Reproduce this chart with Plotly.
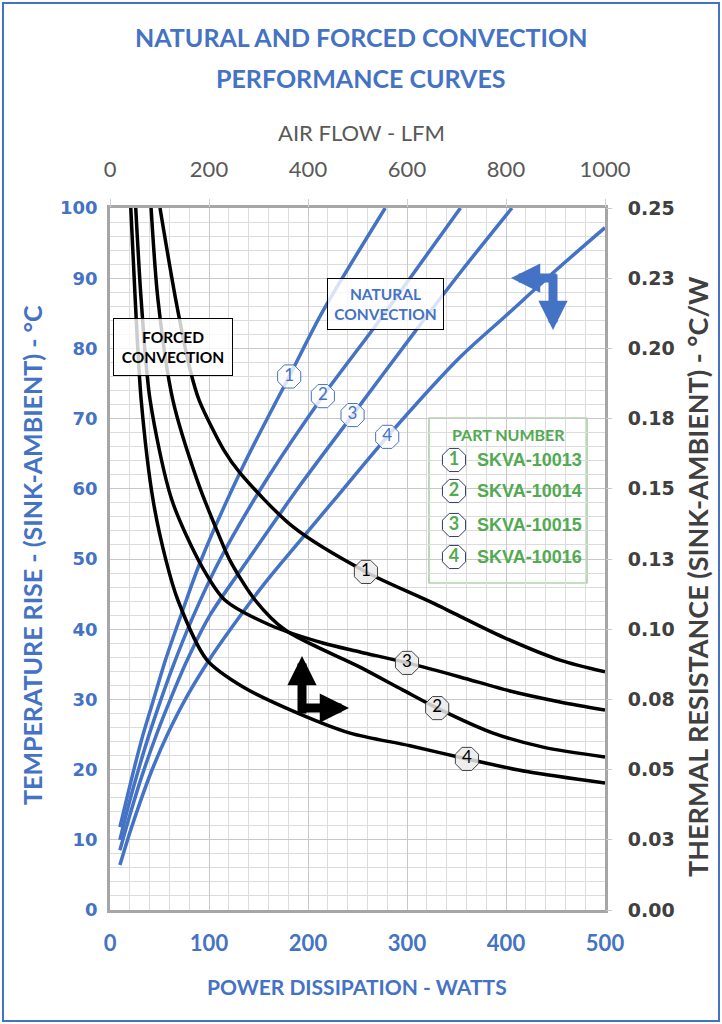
import plotly.graph_objects as go

# natural convection (blue) : power dissipation (W) vs temperature rise (C)
watts_1 = [10, 18, 25, 33, 43, 56, 73, 91, 134, 181, 215, 278]
trise_1 = [11.8, 16.5, 20.5, 24.8, 29.5, 35.6, 42.5, 49.5, 63.1, 76.0, 85.3, 100.0]
watts_2 = [10, 20, 30, 40, 51, 63, 83, 111, 159, 215, 266, 303, 354]
trise_2 = [10.0, 15.6, 20.6, 25.2, 29.8, 34.5, 41.5, 49.9, 61.5, 73.2, 82.8, 90.0, 100.0]
watts_3 = [10, 20, 32, 47, 61, 78, 101, 138, 192, 245, 306, 356, 406]
trise_3 = [8.5, 13.5, 19.0, 25.0, 30.0, 35.6, 42.0, 49.6, 60.5, 70.5, 82.0, 91.2, 100.0]
watts_4 = [10, 20, 30, 42, 58, 78, 101, 131, 156, 174, 230, 280, 354, 401, 451, 500]
trise_4 = [6.4, 11.0, 15.2, 19.8, 25.0, 30.5, 35.8, 41.8, 46.5, 49.6, 59.0, 67.4, 78.8, 84.8, 91.2, 97.2]

# forced convection (black) : air flow (LFM) vs thermal resistance (C/W)
lfm_1 = [101, 133, 162, 180, 230, 263, 370, 517, 653, 794, 909, 1000]
rth_1 = [0.250, 0.2172, 0.1923, 0.1816, 0.1638, 0.1556, 0.1364, 0.1204, 0.1093, 0.0972, 0.089, 0.0848]
lfm_2 = [83, 97, 127, 178, 218, 242, 293, 354, 505, 592, 661, 774, 875, 1000]
rth_2 = [0.250, 0.2172, 0.1816, 0.1521, 0.1343, 0.1246, 0.1104, 0.0997, 0.0865, 0.0783, 0.0719, 0.063,
         0.058, 0.0545]
lfm_3 = [52, 63, 81, 125, 186, 232, 323, 430, 505, 600, 707, 808, 909, 1000]
rth_3 = [0.250, 0.2172, 0.1816, 0.146, 0.1222, 0.1104, 0.1015, 0.0951, 0.0919, 0.088, 0.083, 0.078, 0.0741,
         0.0712]
lfm_4 = [42, 51, 63, 87, 113, 137, 196, 269, 378, 485, 606, 721, 842, 1000]
rth_4 = [0.250, 0.2172, 0.1816, 0.146, 0.1246, 0.1104, 0.089, 0.0794, 0.0702, 0.063, 0.0585, 0.0538,
         0.0493, 0.0452]

# numbered tags sitting on the curves
tag_names = ["1", "2", "3", "4"]
blue_tag_w = [181, 215, 245, 280]
blue_tag_t = [76.0, 73.2, 70.5, 67.4]
black_tag_lfm = [517, 661, 600, 721]
black_tag_r = [0.1204, 0.0719, 0.088, 0.0538]

part_numbers = ["SKVA-10013", "SKVA-10014", "SKVA-10015", "SKVA-10016"]

r_ticks = [0, 0.025, 0.05, 0.075, 0.1, 0.125, 0.15, 0.175, 0.2, 0.225, 0.25]
r_labels = ["0.00", "0.03", "0.05", "0.08", "0.10", "0.13", "0.15", "0.18", "0.20", "0.23", "0.25"]

BLUE = "#4472C4"
GREEN = "#52AA52"
GRAY = "#595959"
DARK = "#404040"

# plot area in pixels: x 110..605, y 208..910
def px(x):
    return (x - 110) / 495


def py(y):
    return (910 - y) / 702


fig = go.Figure()

for w, t in [(watts_1, trise_1), (watts_2, trise_2), (watts_3, trise_3), (watts_4, trise_4)]:
    fig.add_trace(go.Scatter(x=w, y=t, mode="lines",
                             line=dict(color=BLUE, width=3.5, shape="spline", smoothing=0.8),
                             hoverinfo="skip"))

for l, r in [(lfm_1, rth_1), (lfm_2, rth_2), (lfm_3, rth_3), (lfm_4, rth_4)]:
    fig.add_trace(go.Scatter(x=l, y=r, mode="lines", xaxis="x2", yaxis="y2",
                             line=dict(color="black", width=3.5, shape="spline", smoothing=0.8),
                             hoverinfo="skip"))

fig.add_trace(go.Scatter(
    x=blue_tag_w, y=blue_tag_t, mode="markers+text", text=tag_names, textposition="middle center",
    textfont=dict(family="Lato", size=17, color=BLUE),
    marker=dict(symbol="octagon", size=25, color="rgba(255,255,255,0.8)", line=dict(color=BLUE, width=1)),
    hoverinfo="skip"))
fig.add_trace(go.Scatter(
    x=black_tag_lfm, y=black_tag_r, mode="markers+text", text=tag_names, textposition="middle center",
    xaxis="x2", yaxis="y2", textfont=dict(family="Lato", size=17, color="black"),
    marker=dict(symbol="octagon", size=25, color="rgba(235,235,235,0.85)", line=dict(color=DARK, width=1)),
    hoverinfo="skip"))

# legend box icons
legend_rows_y = [460, 491, 525, 557]
fig.add_trace(go.Scatter(
    x=[(454 - 110) / 0.99] * 4, y=[(910 - v) / 7.02 for v in legend_rows_y],
    mode="markers+text", text=tag_names, textposition="middle center",
    textfont=dict(family="Lato", size=18, color=GREEN, weight="bold"),
    marker=dict(symbol="octagon", size=25, color="white", line=dict(color="#2F3B66", width=1)),
    hoverinfo="skip"))


def label(text, x, y, size, color, weight="bold", **kw):
    d = dict(text=text, x=px(x), y=py(y), xref="paper", yref="paper", showarrow=False,
             xanchor="center", yanchor="middle",
             font=dict(family="Lato", size=size, color=color, weight=weight))
    d.update(kw)
    return d


annotations = [
    label("NATURAL AND FORCED CONVECTION", 361, 37, 25, BLUE),
    label("PERFORMANCE CURVES", 361, 78, 25, BLUE),
    label("AIR FLOW - LFM", 361, 133, 22, GRAY, weight="normal"),
    label("TEMPERATURE RISE - (SINK-AMBIENT) - °C", 32, 555, 25, BLUE, textangle=-90),
    label("THERMAL RESISTANCE (SINK-AMBIENT) - °C/W", 697, 577, 27, DARK, textangle=-90),
    label("POWER DISSIPATION - WATTS", 357, 987, 21, BLUE),
    label("FORCED<br>CONVECTION", 173, 347, 15.5, "black", width=116, height=54,
          bgcolor="rgba(255,255,255,0.8)", bordercolor="black", borderwidth=1),
    label("NATURAL<br>CONVECTION", 385, 304, 15.5, BLUE, width=113, height=48,
          bgcolor="rgba(255,255,255,0.8)", bordercolor="black", borderwidth=1),
    label("PART NUMBER", 508, 434, 16, GREEN),
]
for name, yv in zip(part_numbers, legend_rows_y):
    a = label(name, 475, yv, 18, GREEN, xanchor="left")
    a["font"]["family"] = "Liberation Sans"
    annotations.append(a)

# arrows telling which axes each family reads from
arrows = [
    (px(511), py(278), px(558), py(278), BLUE),
    (px(553), py(330), px(553), py(273), BLUE),
    (px(302), py(656), px(302), py(715), "black"),
    (px(349), py(708), px(297), py(708), "black"),
]
for x, y, ax, ay, c in arrows:
    annotations.append(dict(x=x, y=y, ax=ax, ay=ay, xref="x domain", yref="y domain",
                            axref="x domain", ayref="y domain",
                            text="", showarrow=True, arrowhead=2, arrowsize=0.65, arrowwidth=9,
                            arrowcolor=c))

shapes = [
    dict(type="rect", xref="paper", yref="paper", x0=px(429), x1=px(587), y0=py(583), y1=py(418),
         line=dict(color="#8CC084", width=1.2), fillcolor="white", layer="between"),
    dict(type="rect", xref="paper", yref="paper", x0=px(3), x1=px(719), y0=py(1021), y1=py(3),
         line=dict(color=BLUE, width=2)),
]

fig.update_layout(
    width=722, height=1024,
    margin=dict(l=110, r=117, t=208, b=114),
    paper_bgcolor="white", plot_bgcolor="white",
    showlegend=False,
    annotations=annotations,
    shapes=shapes,
    xaxis=dict(range=[0, 500], dtick=100, showgrid=True, gridcolor="#C8C8C8", gridwidth=1,
               minor=dict(dtick=20, showgrid=True, gridcolor="#DCDCDC", gridwidth=1),
               showline=True, mirror=True, linecolor="#A6A6A6", linewidth=2.5, zeroline=False,
               ticks="", ticklabelstandoff=12, automargin=False,
               tickfont=dict(family="Lato", size=22, color=BLUE, weight="bold")),
    yaxis=dict(range=[0, 100], dtick=10, showgrid=True, gridcolor="#C8C8C8", gridwidth=1,
               minor=dict(dtick=2, showgrid=True, gridcolor="#DCDCDC", gridwidth=1),
               showline=True, mirror=True, linecolor="#A6A6A6", linewidth=2.5, zeroline=False,
               ticks="", ticklabelstandoff=6, automargin=False,
               tickfont=dict(family="DejaVu Sans", size=18, color=BLUE, weight="bold")),
    xaxis2=dict(range=[0, 1000], dtick=200, overlaying="x", side="top", showgrid=False, zeroline=False,
                ticks="outside", ticklen=8, tickcolor="#D0D0D0", ticklabelstandoff=13, automargin=False,
                tickfont=dict(family="Lato", size=22, color=GRAY)),
    yaxis2=dict(range=[0, 0.25], overlaying="y", side="right", showgrid=False, zeroline=False,
                tickvals=r_ticks, ticktext=r_labels, automargin=False,
                ticks="outside", ticklen=6, tickcolor="#C8C8C8", ticklabelstandoff=12,
                tickfont=dict(family="DejaVu Sans", size=19, color=DARK, weight="bold")),
)

# the page is photographed from its top-left corner, so drop the default body margin
fig.write_html("out.html", config={"displayModeBar": False},
               post_script="document.body.style.margin = '0';")
